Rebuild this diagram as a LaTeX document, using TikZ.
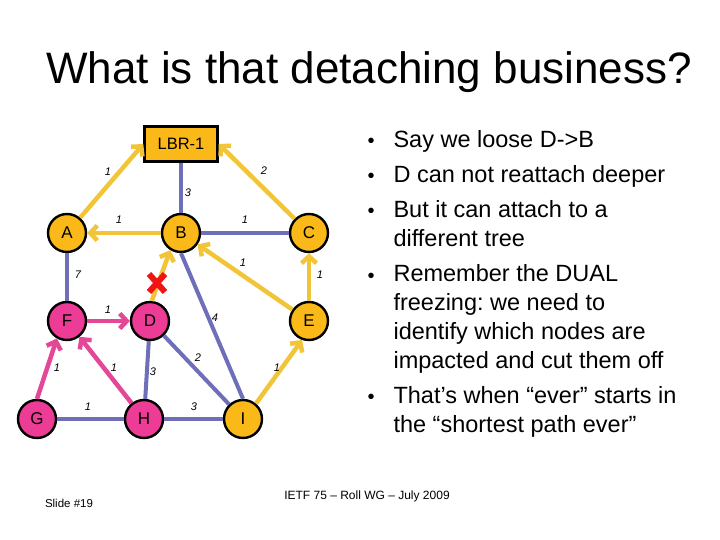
\documentclass[tikz,border=0pt]{standalone}
\usepackage{fontspec}
\setmainfont{Liberation Sans}
\usetikzlibrary{arrows.meta}
\frenchspacing

\begin{document}
\begin{tikzpicture}[x=1pt,y=-1pt,
  rnode/.style={circle, draw=black, line width=2.4pt, minimum size=38pt, inner sep=0pt, font=\fontsize{17}{17}\selectfont},
  goldnode/.style={rnode, fill=nodegold},
  pinknode/.style={rnode, fill=nodepink},
  yarrow/.style={draw=lineyellow, line width=4.5pt, -{Straight Barb[length=7pt,width=15pt]}},
  parrow/.style={draw=linepink, line width=4.5pt, -{Straight Barb[length=7pt,width=15pt]}},
  bline/.style={draw=lineblue, line width=4pt},
  cost/.style={font=\fontsize{11}{11}\selectfont\itshape},
  bullettext/.style={anchor=base west, align=left, font=\fontsize{23.5}{29}\selectfont},
  bulletdot/.style={anchor=base, font=\fontsize{20}{20}\selectfont},
  ]
  % Define colors
  \definecolor{nodegold}{RGB}{250,185,25}
  \definecolor{nodepink}{RGB}{236,60,150}
  \definecolor{lineyellow}{RGB}{242,196,55}
  \definecolor{linepink}{RGB}{230,70,150}
  \definecolor{lineblue}{RGB}{110,110,185}
  \definecolor{cutred}{RGB}{240,20,20}

  \useasboundingbox (0,0) rectangle (720,540);

  % Title
  \node[anchor=base, font=\fontsize{44}{44}\selectfont] (title) at (369,84) {What is that detaching business?};

  % Graph nodes
  \node[rectangle, draw=black, line width=2.4pt, fill=nodegold, minimum width=73pt, minimum height=35pt,
        font=\fontsize{16.5}{16.5}\selectfont] (LBR) at (181,144) {LBR-1};
  \node[goldnode] (A) at (67,233) {A};
  \node[goldnode] (B) at (181,233) {B};
  \node[goldnode] (C) at (309,233) {C};
  \node[pinknode] (F) at (67,321) {F};
  \node[pinknode] (D) at (150,321) {D};
  \node[goldnode] (E) at (309,321) {E};
  \node[pinknode] (G) at (37,419) {G};
  \node[pinknode] (H) at (144,419) {H};
  \node[goldnode] (I) at (243,419) {I};

  % Blue links
  \draw[bline] (LBR) -- (B);
  \draw[bline] (B) -- (C);
  \draw[bline] (A) -- (F);
  \draw[bline] (B.south) -- (I.north);
  \draw[bline] (D) -- (H);
  \draw[bline] (D) -- (I);
  \draw[bline] (G) -- (H);
  \draw[bline] (H) -- (I);

  % Yellow tree
  \draw[yarrow] (A) -- (LBR.west);
  \draw[yarrow] (C) -- (LBR.east);
  \draw[yarrow] (B) -- (A);
  \draw[yarrow] (E) -- (B);
  \draw[yarrow] (E) -- (C);
  \draw[yarrow] (I.50) -- (E.250);
  \draw[yarrow] (D.85) -- (B.238);

  % Pink tree
  \draw[parrow] (F) -- (D);
  \draw[parrow] (G.north) -- (F.240);
  \draw[parrow] (H) -- (F);

  % Lost link D->B
  \draw[cutred, line width=6pt] (149,274) -- (165,292);
  \draw[cutred, line width=6pt] (165,274) -- (149,292);

  % Link costs
  \node[cost] (kAL) at (108,172) {1};
  \node[cost] (kCL) at (264,171) {2};
  \node[cost] (kLB) at (188,193) {3};
  \node[cost] (kBA) at (119,220) {1};
  \node[cost] (kBC) at (245,220) {1};
  \node[cost] (kEB) at (243,263) {1};
  \node[cost] (kEC) at (320,275) {1};
  \node[cost] (kAF) at (78,275) {7};
  \node[cost] (kFD) at (108,310) {1};
  \node[cost] (kBI) at (215,318) {4};
  \node[cost] (kDI) at (198,358) {2};
  \node[cost] (kGF) at (57,368) {1};
  \node[cost] (kHF) at (114,368) {1};
  \node[cost] (kDH) at (153,372) {3};
  \node[cost] (kGH) at (88,407) {1};
  \node[cost] (kHI) at (194,407) {3};
  \node[cost] (kIE) at (277,368) {1};

  % Bullet list (base = last line)
  \node[bullettext] (t1) at (390,148) {Say we loose D->B};
  \node[bullettext] (t2) at (390,183) {D can not reattach deeper};
  \node[bullettext] (t3) at (390,247) {But it can attach to a\\different tree};
  \node[bullettext] (t4) at (390,368) {Remember the DUAL\\freezing: we need to\\identify which nodes are\\impacted and cut them off};
  \node[bullettext] (t5) at (390,432) {That’s when “ever” starts in\\the “shortest path ever”};
  \foreach \y in {148,183,218,282,403}
    \node[bulletdot] at (371,\y) {•};

  % Footer
  \node[anchor=base, font=\fontsize{12}{12}\selectfont] (footer) at (367,499) {IETF 75 – Roll WG – July 2009};
  \node[anchor=base, font=\fontsize{11.5}{11.5}\selectfont] (slide) at (69,507) {Slide \#19};
\end{tikzpicture}
\end{document}
